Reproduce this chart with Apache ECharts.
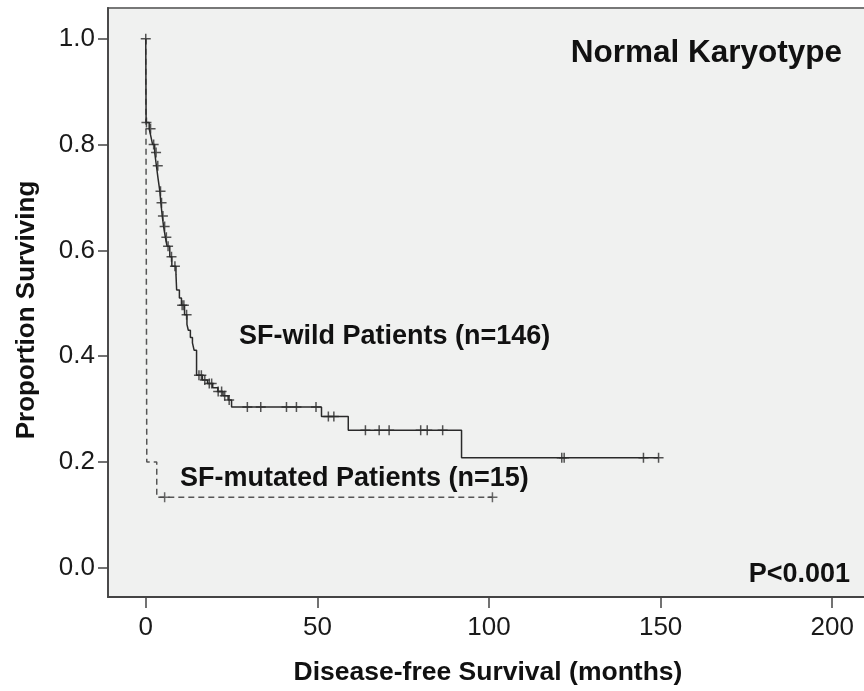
<!DOCTYPE html>
<html>
<head>
<meta charset="utf-8">
<script src="https://cdn.jsdelivr.net/npm/echarts@6/dist/echarts.min.js"></script>
<style>html,body{margin:0;padding:0;background:#fff}#c{width:864px;height:691px}</style>
</head>
<body>
<div id="c"></div>
<script>
// ---- data ----
var xTicks = [0, 50, 100, 150, 200];
var yTicks = [0, 0.2, 0.4, 0.6, 0.8, 1.0];

var wildEventTimes = [0, 0.1, 1.0, 1.5, 2.0, 2.6, 3.1, 3.6, 4.1, 4.4, 4.8, 5.2, 5.7, 6.2, 7.0, 7.6, 8.8, 9.0, 9.8, 10.4, 11.3, 12.0, 12.4, 13.0, 13.6, 14.1, 14.8, 16.5, 18.0, 19.5, 21.0, 22.5, 24.0, 25.0, 51.2, 59.0, 92.0];
var wildSurv = [1.0, 0.842, 0.830, 0.815, 0.800, 0.785, 0.760, 0.735, 0.712, 0.690, 0.665, 0.645, 0.625, 0.608, 0.588, 0.570, 0.555, 0.525, 0.510, 0.496, 0.478, 0.460, 0.449, 0.435, 0.425, 0.411, 0.364, 0.355, 0.348, 0.340, 0.333, 0.325, 0.317, 0.304, 0.286, 0.260, 0.208];
var wildEnd = 149.4;
var wildCensor = [0, 0.2, 1.4, 2.3, 3.0, 3.5, 4.3, 4.6, 5.0, 5.5, 6.0, 6.5, 7.5, 8.5, 10.6, 11.1, 11.9, 15.5, 16.2, 17.2, 18.5, 19.2, 21.1, 22.1, 23.0, 24.3, 29.6, 33.5, 41.0, 43.9, 49.6, 53.2, 54.8, 64.0, 68.0, 70.9, 80.1, 82.0, 86.5, 121.2, 121.9, 145.0, 149.4];

var mutEventTimes = [0, 0.3, 3.2];
var mutSurv = [1.0, 0.2, 0.133];
var mutEnd = 101;
var mutCensor = [5.5, 101];

// ---- helpers ----
function stepLine(times, surv, end) {
  var pts = times.map(function (t, i) { return [t, surv[i]]; });
  pts.push([end, surv[surv.length - 1]]);
  return pts;
}
function survAt(times, surv, t) {
  var s = surv[0];
  for (var i = 0; i < times.length; i++) { if (times[i] <= t) s = surv[i]; }
  return s;
}
function censorPts(ctimes, times, surv) {
  return ctimes.map(function (t) { return [t, survAt(times, surv, t)]; });
}

var plus = 'path://M5,0L5,10M0,5L10,5';
var FONT = '"Liberation Sans", Arial, sans-serif';

var chart = echarts.init(document.getElementById('c'), null, {renderer: 'canvas'});
chart.setOption({
  animation: false,
  backgroundColor: '#ffffff',
  grid: {
    left: 108, top: 8, right: -6, bottom: 94,
    show: true, backgroundColor: '#f0f1f0', borderColor: '#777', borderWidth: 1.8,
    containLabel: false, outerBoundsMode: 'none'
  },
  xAxis: {
    type: 'value', min: -11, max: 211,
    axisLine: {show: true, onZero: false, lineStyle: {color: '#444', width: 1.8}},
    axisTick: {show: true, length: 11, customValues: xTicks, lineStyle: {color: '#444', width: 1.5}},
    axisLabel: {customValues: xTicks, margin: 18, color: '#1a1a1a', fontSize: 26, fontFamily: FONT},
    splitLine: {show: false}
  },
  yAxis: {
    type: 'value', min: -0.0555, max: 1.0583,
    axisLine: {show: true, onZero: false, lineStyle: {color: '#444', width: 1.8}},
    axisTick: {show: true, length: 10, customValues: yTicks, lineStyle: {color: '#444', width: 1.5}},
    axisLabel: {customValues: yTicks, margin: 13, color: '#1a1a1a', fontSize: 26, fontFamily: FONT,
      formatter: function (v) { return v.toFixed(1); }},
    splitLine: {show: false}
  },
  series: [
    {type: 'line', step: 'end', symbol: 'none', data: stepLine(mutEventTimes, mutSurv, mutEnd),
      lineStyle: {color: '#555', width: 1.5, type: [6, 4]}, z: 2},
    {type: 'line', step: 'end', symbol: 'none', data: stepLine(wildEventTimes, wildSurv, wildEnd),
      lineStyle: {color: '#2a2a2a', width: 1.5}, z: 3},
    {type: 'scatter', symbol: plus, symbolSize: 10, data: censorPts(wildCensor, wildEventTimes, wildSurv),
      itemStyle: {color: 'transparent', borderColor: '#2a2a2a', borderWidth: 1.5}, z: 4},
    {type: 'scatter', symbol: plus, symbolSize: 10, data: censorPts(mutCensor, mutEventTimes, mutSurv),
      itemStyle: {color: 'transparent', borderColor: '#444', borderWidth: 1.5}, z: 4}
  ],
  graphic: [
    {type: 'text', right: 22, top: 37, style: {text: 'Normal Karyotype', font: 'bold 31.5px ' + FONT, fill: '#111'}},
    {type: 'text', left: 239, top: 323, style: {text: 'SF-wild Patients (n=146)', font: 'bold 27px ' + FONT, fill: '#111'}},
    {type: 'text', left: 180, top: 465, style: {text: 'SF-mutated Patients (n=15)', font: 'bold 27px ' + FONT, fill: '#111'}},
    {type: 'text', right: 14, top: 561, style: {text: 'P<0.001', font: 'bold 27px ' + FONT, fill: '#111'}},
    {type: 'text', x: 488, y: 673, style: {text: 'Disease-free Survival (months)', font: 'bold 26.5px ' + FONT, fill: '#111', align: 'center', verticalAlign: 'middle'}},
    {type: 'text', x: 27, y: 310, rotation: Math.PI / 2, style: {text: 'Proportion Surviving', font: 'bold 26px ' + FONT, fill: '#111', align: 'center', verticalAlign: 'middle'}}
  ]
});
</script>
</body>
</html>
